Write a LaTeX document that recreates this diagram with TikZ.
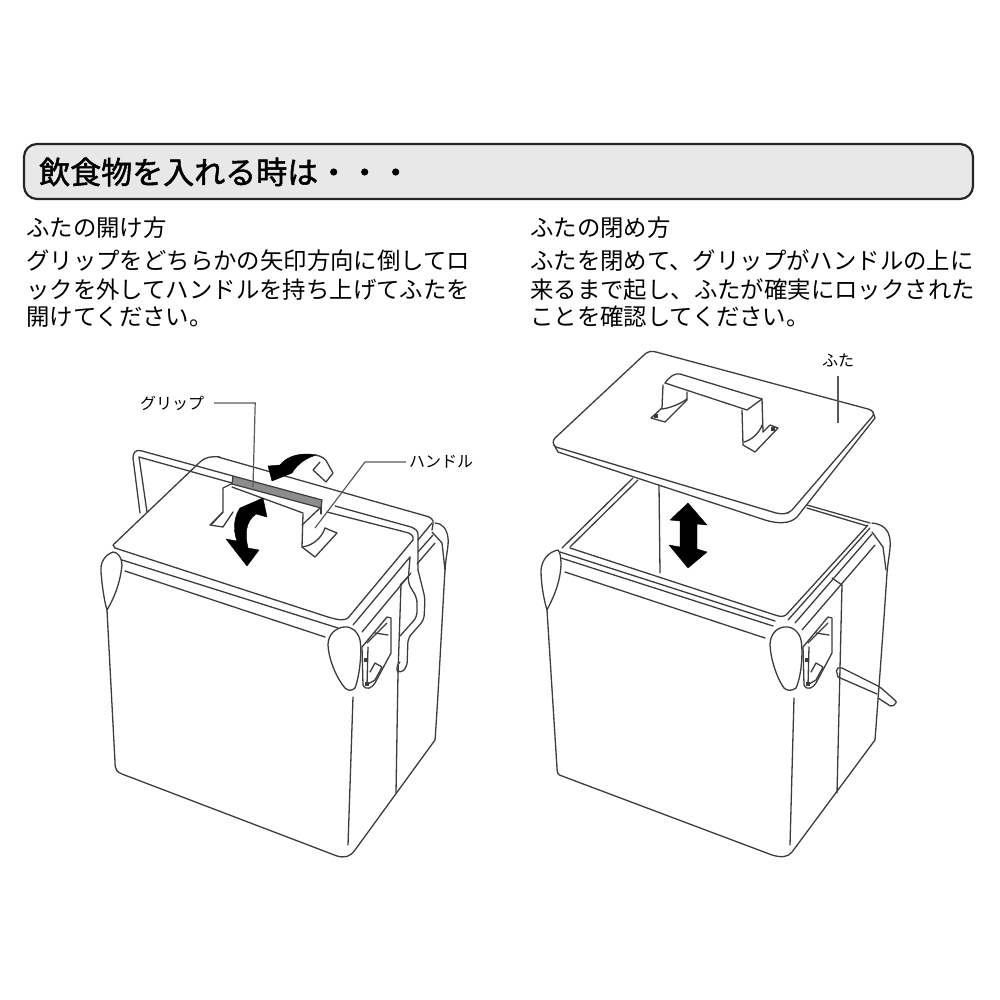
\documentclass[tikz,border=0pt]{standalone}
\usepackage{fontspec}
\setmainfont{Noto Sans CJK JP}
\newfontfamily\titlefont[FakeBold=1.6]{Noto Sans CJK JP}
\usepackage{xcolor}
\usetikzlibrary{positioning, calc}
\definecolor{boxgrey}{RGB}{232, 232, 232}
\definecolor{inkgrey}{RGB}{60, 60, 60}
\tikzset{
  coolerline/.style={draw=inkgrey, line width=1.3pt, line join=round, line cap=round},
  leaderline/.style={draw=black!65, line width=1.2pt},
  bodytext/.style={anchor=west, inner sep=0pt, font=\fontsize{23.4}{30}\selectfont},
  smalllabel/.style={inner sep=0pt, font=\fontsize{16}{18}\selectfont},
  bigarrow/.style={fill=black, draw=black, line width=0.4pt, line join=round},
}
\begin{document}
\begin{tikzpicture}[x=1pt, y=-1pt]
\useasboundingbox (0,0) rectangle (1000,1000);

% Title bar
\draw[black!85, line width=2.2pt, fill=boxgrey, rounded corners=13pt] (24,144) rectangle (973,199);
\node[anchor=west, inner sep=0pt, font=\fontsize{31}{34}\selectfont\titlefont] (title) at (39,172)
    {飲食物を入れる時は・・・};

% Left column text
\node[bodytext] (opentitle) at (26,228) {ふたの開け方};
\node[bodytext] (openone) at (26,261) {グリップをどちらかの矢印方向に倒してロ};
\node[bodytext] (opentwo) at (26,290) {ックを外してハンドルを持ち上げてふたを};
\node[bodytext] (openthree) at (26,317) {開けてください。};

% Right column text
\node[bodytext] (closetitle) at (530,228) {ふたの閉め方};
\node[bodytext] (closeone) at (530,261) {ふたを閉めて、グリップがハンドルの上に};
\node[bodytext] (closetwo) at (530,290) {来るまで起し、ふたが確実にロックされた};
\node[bodytext] (closethree) at (530,317) {ことを確認してください。};

% ---- Left cooler ----
% Body
\draw[coolerline] (107,610) -- (115,762) .. controls (115,770) and (117,772) .. (122,774)
    -- (337,856) .. controls (345,858) and (350,857) .. (355,850) -- (435,740)
    .. controls (438,700) and (442,620) .. (445,570) .. controls (446,555) and (449,545) .. (448,538)
    .. controls (447,529) and (442,523) .. (435,523);
\draw[coolerline] (353,697) -- (348,845);
\draw[coolerline] (401,585) -- (398,673);
\draw[coolerline] (398,673) -- (396,793);
\draw[coolerline] (432,532) -- (442,543) -- (445,570);

% Carry wire
\draw[coolerline] (140,513) -- (133,458) .. controls (133,452) and (136,449) .. (142,451) -- (233,476);
\draw[coolerline] (147,512) -- (139,457) -- (232,483);
\draw[coolerline] (218,457) -- (426,516) .. controls (431,517) and (434,520) .. (433,524) -- (432,530);
\draw[coolerline] (335,506) -- (411,527) .. controls (416,529) and (418,531) .. (418,535) -- (418,570);
\draw[coolerline] (418,540) -- (432,523);
\draw[coolerline] (418,552) -- (433,535);

% Lid
\draw[coolerline] (115,548) -- (113,545) -- (200,462) .. controls (205,457) and (212,456) .. (220,457);
\draw[coolerline] (327,512) -- (405,532) .. controls (411,533) and (414,536) .. (413,540);
\draw[coolerline] (115,548) -- (328,617) .. controls (338,620) and (344,621) .. (348,618) -- (413,540);
\draw[coolerline] (122,560) -- (338,628);
\draw[coolerline] (125,571) -- (325,637);
\draw[coolerline] (353,625) -- (410,557);
\draw[coolerline] (362,632) -- (411,573);
\draw[coolerline] (417,564) -- (435,543);
\draw[coolerline] (400,585) -- (408,577);

% Side wire
\draw[coolerline, rounded corners=5pt] (418,570) -- (425,598) -- (424,620) -- (408,638) -- (407,667)
    -- (400,674) -- (395,668) -- (400,662);
\draw[coolerline, rounded corners=5pt] (410,557) -- (408,583) -- (417,598) -- (417,617) -- (400,636);

% End caps
\draw[coolerline, fill=white] (113,552) .. controls (105,555) and (100,562) .. (101,572)
    .. controls (102,585) and (104,600) .. (107,610)
    .. controls (113,600) and (120,585) .. (122,565) .. controls (122,558) and (118,552) .. (113,552) -- cycle;
\draw[coolerline, fill=white] (344,627) .. controls (335,628) and (328,635) .. (328,645)
    .. controls (329,662) and (338,680) .. (345,688) .. controls (348,691) and (352,691) .. (355,688)
    .. controls (360,675) and (362,650) .. (360,640) .. controls (358,632) and (352,626) .. (344,627) -- cycle;

% Latch
\draw[coolerline] (362,647) -- (387,617) -- (391,618) -- (391,653) -- (375,683)
    .. controls (372,688) and (366,691) .. (363,685) -- cycle;
\draw[coolerline] (367,643) -- (387,623);
\draw[coolerline] (368,647) -- (367,685);
\draw[coolerline] (375,633) -- (388,635);
\draw[coolerline] (370,672) -- (375,663) -- (382,667) -- (375,680) -- (368,684);
\fill[inkgrey] (364,658) rectangle (368,662);
\fill[inkgrey] (365,682) rectangle (369,686);

% Handle on lid
\draw[coolerline] (235,482) -- (223,488) -- (223,512) -- (210,525) -- (223,527) -- (233,512);
\draw[coolerline] (223,512) -- (212,524);
\draw[coolerline] (232,487) -- (303,513);
\draw[coolerline] (303,514) -- (302,547) -- (315,557) -- (337,533) -- (325,528);
\draw[coolerline] (302,525) -- (320,508);
\draw[coolerline] (302,547) .. controls (312,546) and (322,538) .. (325,528);
\draw[coolerline] (321,505) -- (321,514);

% Grip
\draw[inkgrey, line width=1.2pt, fill=black!45] (233,476) -- (322,500) -- (321,508) -- (232,484) -- cycle;

% Arrows
\fill[bigarrow] (268,466) -- (280,465) .. controls (287,456) and (300,452) .. (317,455)
    .. controls (308,457) and (298,463) .. (292,473) -- (272,481) -- cycle;
\draw[coolerline] (315,455) .. controls (322,456) and (326,459) .. (328,464) -- (333,473) -- (326,482)
    -- (313,470) -- (320,462);
\fill[bigarrow] (263,498) -- (267,517) -- (256,514) .. controls (245,522) and (245,535) .. (248,548)
    -- (259,550) -- (247,566) -- (226,539) -- (237,541) .. controls (232,528) and (235,515) .. (240,508) -- cycle;

% Labels
\node[smalllabel] (griplabel) at (172,403) {グリップ};
\coordinate (gripend) at (253,487);
\draw[leaderline] (griplabel.east) ++(10,0) -- ++(41,0) -- (gripend);
\node[smalllabel] (handlelabel) at (441,462) {ハンドル};
\coordinate (handleend) at (315,528);
\draw[leaderline] (handlelabel.west) ++(-3,0) -- (365,462) -- (handleend);

% ---- Right cooler ----
% Body
\draw[coolerline] (547,610) -- (557,768) .. controls (557,773) and (558,775) .. (562,776)
    -- (772,855) .. controls (782,858) and (788,857) .. (792,852) -- (875,740)
    .. controls (878,700) and (884,620) .. (887,573) .. controls (888,560) and (891,548) .. (890,540)
    .. controls (889,530) and (883,524) .. (872,523);
\draw[coolerline] (794,698) -- (790,845);
\draw[coolerline] (842,585) -- (837,793);
\draw[coolerline] (659,485) -- (660,573);
\draw[coolerline] (872,532) -- (883,547) -- (886,570);

% Rim
\draw[coolerline] (562,548) -- (633,478);
\draw[coolerline] (570,547) -- (638,480);
\draw[coolerline] (570,548) -- (775,615) .. controls (781,617) and (784,617) .. (787,614) -- (868,525);
\draw[coolerline] (807,505) -- (870,523);
\draw[coolerline] (807,508) -- (867,526);
\draw[coolerline] (560,552) -- (775,621);
\draw[coolerline] (561,558) -- (773,626);
\draw[coolerline] (565,572) -- (765,638);
\draw[coolerline] (788,620) -- (870,528);
\draw[coolerline] (795,623) -- (872,534);
\draw[coolerline] (802,630) -- (875,545);
\draw[coolerline] (832,578) -- (842,585);

% End caps
\draw[coolerline, fill=white] (558,550) .. controls (548,552) and (542,560) .. (541,570)
    .. controls (541,585) and (544,600) .. (547,610)
    .. controls (552,600) and (560,585) .. (561,565) .. controls (561,557) and (560,552) .. (558,550) -- cycle;
\draw[coolerline, fill=white] (784,627) .. controls (776,628) and (770,635) .. (770,645)
    .. controls (771,662) and (778,680) .. (784,688) .. controls (787,691) and (792,691) .. (796,688)
    .. controls (802,675) and (803,650) .. (801,640) .. controls (799,632) and (793,626) .. (784,627) -- cycle;

% Latch
\draw[coolerline] (803,647) -- (828,617) -- (832,618) -- (832,653) -- (816,683)
    .. controls (813,688) and (807,691) .. (804,685) -- cycle;
\draw[coolerline] (808,643) -- (828,623);
\draw[coolerline] (809,647) -- (808,685);
\draw[coolerline] (816,633) -- (829,635);
\draw[coolerline] (811,672) -- (816,663) -- (823,667) -- (816,680) -- (809,684);
\fill[inkgrey] (805,658) rectangle (809,662);
\fill[inkgrey] (806,682) rectangle (810,686);

% Side wire
\draw[coolerline, rounded corners=2pt] (838,677) -- (836,669) -- (840,667) -- (880,687) -- (897,702) -- (892,707) -- (878,698);
\draw[coolerline] (838,677) -- (877,694);

% Lid with its edge
\draw[coolerline, fill=white] (554,445) -- (558,452) -- (765,520) .. controls (778,524) and (790,524) .. (797,517)
    -- (875,418) -- (873,412) -- (788,513) -- cycle;
\draw[coolerline, fill=white] (556,447) .. controls (553,445) and (552,441) .. (555,438)
    -- (645,354) .. controls (649,351) and (652,351) .. (656,352) -- (868,409)
    .. controls (873,410) and (875,414) .. (872,417) -- (792,510) .. controls (786,515) and (782,514) .. (776,513) -- cycle;

% Handle on lid
\draw[coolerline] (665,383) .. controls (670,376) and (675,373) .. (680,374) -- (762,399) -- (763,432);
\draw[coolerline] (665,383) -- (747,410) -- (762,399);
\draw[coolerline] (663,385) -- (662,408) -- (651,418) -- (665,422) -- (687,400) -- (687,392);
\draw[coolerline] (662,409) .. controls (670,408) and (680,404) .. (687,399);
\fill[inkgrey] (654,414) rectangle (658,418);
\draw[coolerline] (742,410) -- (743,445) -- (755,452) -- (778,428) -- (770,425) -- (763,432);
\draw[coolerline] (744,442) .. controls (752,440) and (760,432) .. (762,425);
\fill[inkgrey] (771,427) rectangle (775,431);

% Arrow
\fill[bigarrow] (688,503) -- (707,525) -- (697,524) -- (697,549) -- (707,552) -- (688,568)
    -- (669,545) -- (680,547) -- (680,521) -- (670,520) -- cycle;

% Label
\node[smalllabel] (lidlabel) at (838,360) {ふた};
\coordinate (lidend) at (838,423);
\draw[leaderline] (lidlabel.south) ++(0,9) -- (lidend);

\end{tikzpicture}
\end{document}
